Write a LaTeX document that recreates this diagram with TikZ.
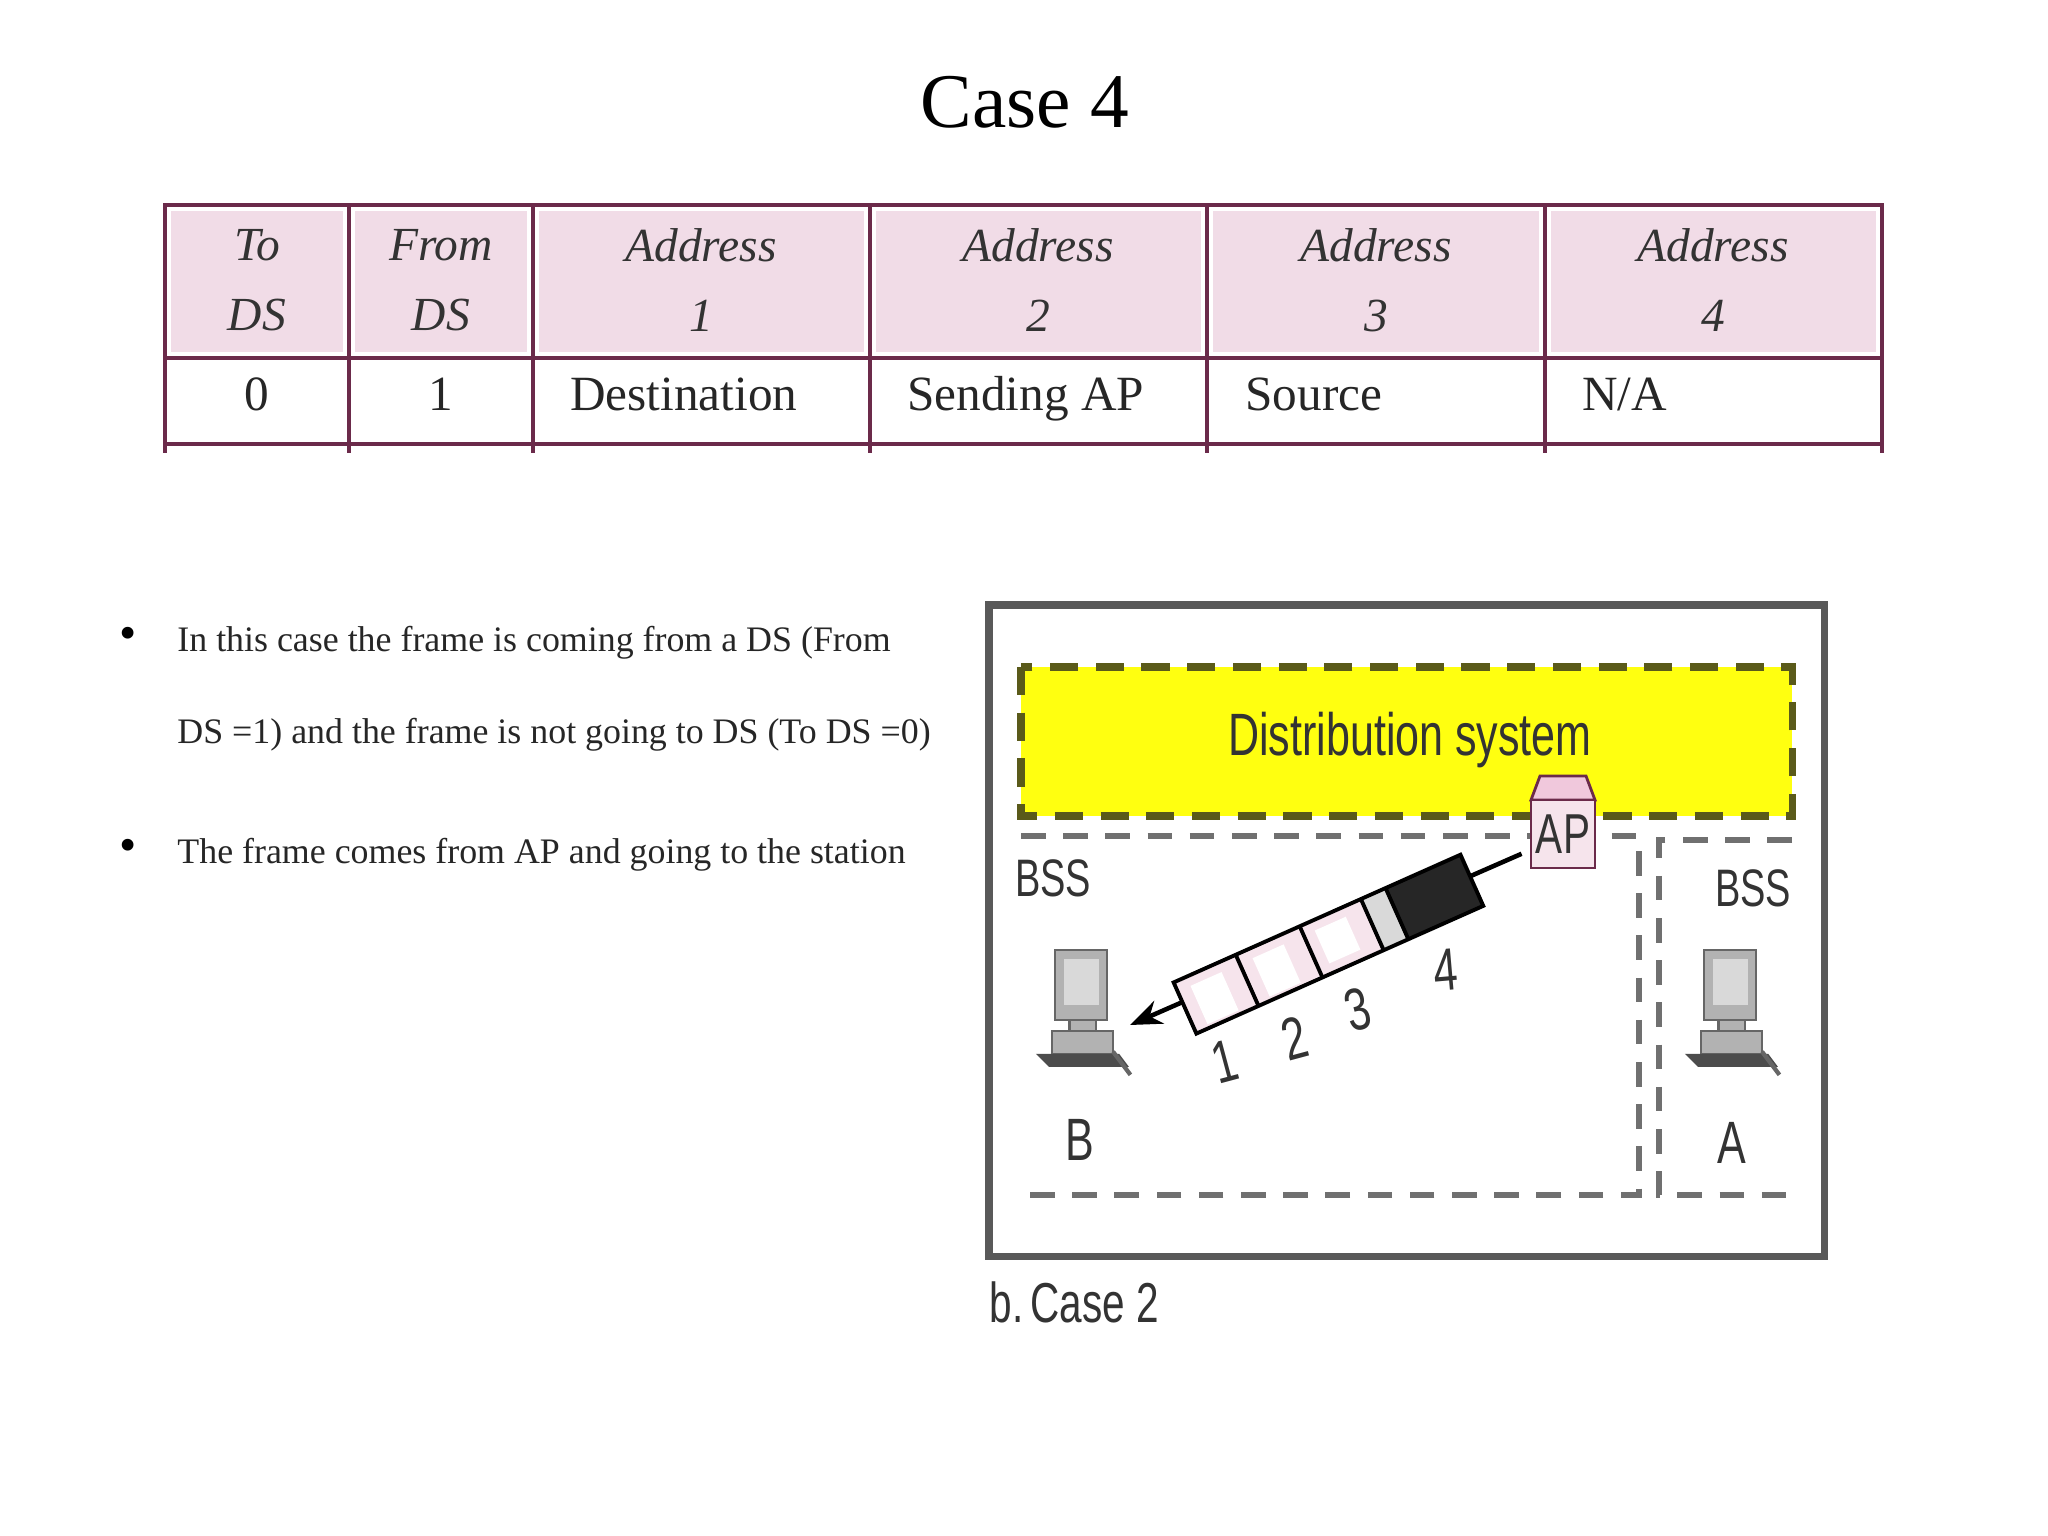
\documentclass[tikz,border=0pt]{standalone}
\usepackage{fontspec}
\setmainfont{Liberation Serif}
\setsansfont{Liberation Sans}
\usetikzlibrary{arrows.meta}
\definecolor{tblline}{HTML}{6B2A4A}
\definecolor{hdrpink}{HTML}{F1DCE7}
\definecolor{dsyellow}{HTML}{FFFF10}
\definecolor{dsborder}{HTML}{5A5A1A}
\definecolor{bssgray}{HTML}{707070}
\definecolor{cellpink}{HTML}{F6E4EC}
\definecolor{appink}{HTML}{F0C8DC}
\tikzset{
  hdr/.style={font=\fontsize{13.5}{16}\selectfont\itshape, align=center, text=black!80},
  dat/.style={font=\fontsize{14}{17}\selectfont, text=black!85, text height=10pt, text depth=3pt},
  bul/.style={font=\fontsize{10.2}{12}\selectfont, anchor=west, text=black!85},
  cond/.style={font=\sffamily\fontsize{15}{18}\selectfont, text=black!80},
  bssline/.style={draw=bssgray, line width=1.6pt, dash pattern=on 7pt off 5pt},
  pc/.style={fill=black!30, draw=black!60, line width=0.6pt}
}
\newcommand{\cnd}[1]{\scalebox{0.72}[1]{#1}}
\begin{document}
\begin{tikzpicture}[x=0.01cm,y=-0.01cm]
\useasboundingbox (0,0) rectangle (2048,1536);
\fill[white] (0,0) rectangle (2048,1536);
% title
\node[font=\fontsize{22}{28}\selectfont] (title) at (1025,102) {Case 4};
% table header fills
\foreach \a/\b in {165/349,349/533,533/870,870/1207,1207/1545,1545/1882}
  \fill[hdrpink] (\a+6,211) rectangle (\b-6,352);
\draw[tblline, line width=1.3pt] (165,205) rectangle (1882,444);
\draw[tblline, line width=1.3pt] (165,358) -- (1882,358);
\foreach \c in {349,533,870,1207,1545} \draw[tblline, line width=1.3pt] (\c,205) -- (\c,453);
\draw[tblline, line width=1.3pt] (165,444) -- (165,453) (1882,444) -- (1882,453);
\node[hdr] (h1) at (257,280) {To\\[4pt]DS};
\node[hdr] (h2) at (441,280) {From\\[4pt]DS};
\node[hdr] (h3) at (701,280) {Address\\[4pt]1};
\node[hdr] (h4) at (1038,280) {Address\\[4pt]2};
\node[hdr] (h5) at (1376,280) {Address\\[4pt]3};
\node[hdr] (h6) at (1713,280) {Address\\[4pt]4};
\node[dat] (d1) at (257,398) {0};
\node[dat] (d2) at (441,398) {1};
\node[dat,anchor=west] (d3) at (558,398) {Destination};
\node[dat,anchor=west] (d4) at (895,398) {Sending AP};
\node[dat,anchor=west] (d5) at (1233,398) {Source};
\node[dat,anchor=west] (d6) at (1570,398) {N/A};
% bullets
\node[font=\fontsize{14}{14}\selectfont] (b1) at (128,638) {\textbullet};
\node[font=\fontsize{14}{14}\selectfont] (b2) at (128,850) {\textbullet};
\node[bul] (t1) at (165,643) {In this case the frame is coming from a DS (From};
\node[bul] (t2) at (165,735) {DS =1) and the frame is not going to DS (To DS =0)};
\node[bul] (t3) at (165,855) {The frame comes from AP and going to the station};
% diagram frame
\draw[black!65, line width=2pt] (989,605) rectangle (1824,1256);
\draw[dsborder, fill=dsyellow, line width=2pt, dash pattern=on 8pt off 5pt] (1021,667) rectangle (1792,816);
\node[cond, font=\sffamily\fontsize{17}{20}\selectfont] (ds) at (1410,740) {\cnd{Distribution system}};
% BSS regions
\draw[bssline] (1021,836) -- (1639,836) -- (1639,1195) -- (1021,1195);
\draw[bssline] (1792,840) -- (1659,840) -- (1659,1195) -- (1792,1195);
\node[cond] (bssl) at (1053,878) {\cnd{BSS}};
\node[cond] (bssr) at (1753,888) {\cnd{BSS}};
% AP
\draw[tblline, fill=appink, line width=0.8pt] (1531,800) -- (1540,776) -- (1586,776) -- (1595,800) -- cycle;
\draw[tblline, fill=cellpink, line width=0.8pt] (1531,800) rectangle (1595,868);
\node[cond, font=\sffamily\fontsize{16}{18}\selectfont] (ap) at (1563,834) {\cnd{AP}};
% computers
\foreach \n/\x in {B/1084,A/1733}{
  \begin{scope}[shift={(\x,1040)}, scale=1.45]
    \draw[pc] (-20,-62) rectangle (16,-14);
    \fill[white!85!black] (-14,-56) rectangle (10,-24);
    \draw[pc] (-10,-14) rectangle (8,-6);
    \draw[pc] (-22,-6) rectangle (20,10);
    \draw[fill=black!70, draw=black!70] (-32,10) -- (-24,18) -- (30,18) -- (24,10) -- cycle;
    \draw[black!60, line width=1.2pt] (20,8) -- (32,24);
  \end{scope}
}
\node[cond, font=\sffamily\fontsize{17}{20}\selectfont] (lb) at (1080,1140) {\cnd{B}};
\node[cond, font=\sffamily\fontsize{17}{20}\selectfont] (la) at (1732,1143) {\cnd{A}};
% frame and arrow
\coordinate (tip) at (1130,1025);
\draw[black, line width=1.3pt, -{Stealth[length=9pt,width=7pt]}] (ap.south west) ++(-2,-12) -- (tip);
\begin{scope}[shift={(1185,1008)}, rotate=24]
  \fill[cellpink] (0,-28) rectangle (205,28);
  \fill[black!15] (205,-28) rectangle (232,28);
  \fill[black!85] (232,-28) rectangle (314,28);
  \fill[white] (14,-18) rectangle (48,24);
  \fill[white] (82,-18) rectangle (116,24);
  \fill[white] (150,-18) rectangle (184,18);
  \draw[black, line width=1.1pt] (0,-28) rectangle (314,28);
  \foreach \p in {68,138,205,232} \draw[black, line width=1.1pt] (\p,-28) -- (\p,28);
\end{scope}
\node[cond, font=\sffamily\fontsize{17}{20}\selectfont, rotate=15] (n1) at (1225,1062) {\cnd{1}};
\node[cond, font=\sffamily\fontsize{17}{20}\selectfont, rotate=15] (n2) at (1295,1038) {\cnd{2}};
\node[cond, font=\sffamily\fontsize{17}{20}\selectfont, rotate=15] (n3) at (1358,1010) {\cnd{3}};
\node[cond, font=\sffamily\fontsize{17}{20}\selectfont, rotate=5] (n4) at (1446,970) {\cnd{4}};
\node[cond, font=\sffamily\fontsize{16}{20}\selectfont, anchor=west, inner sep=0pt] (cap) at (989,1302) {\cnd{b.\,Case 2}};
\end{tikzpicture}
\end{document}
